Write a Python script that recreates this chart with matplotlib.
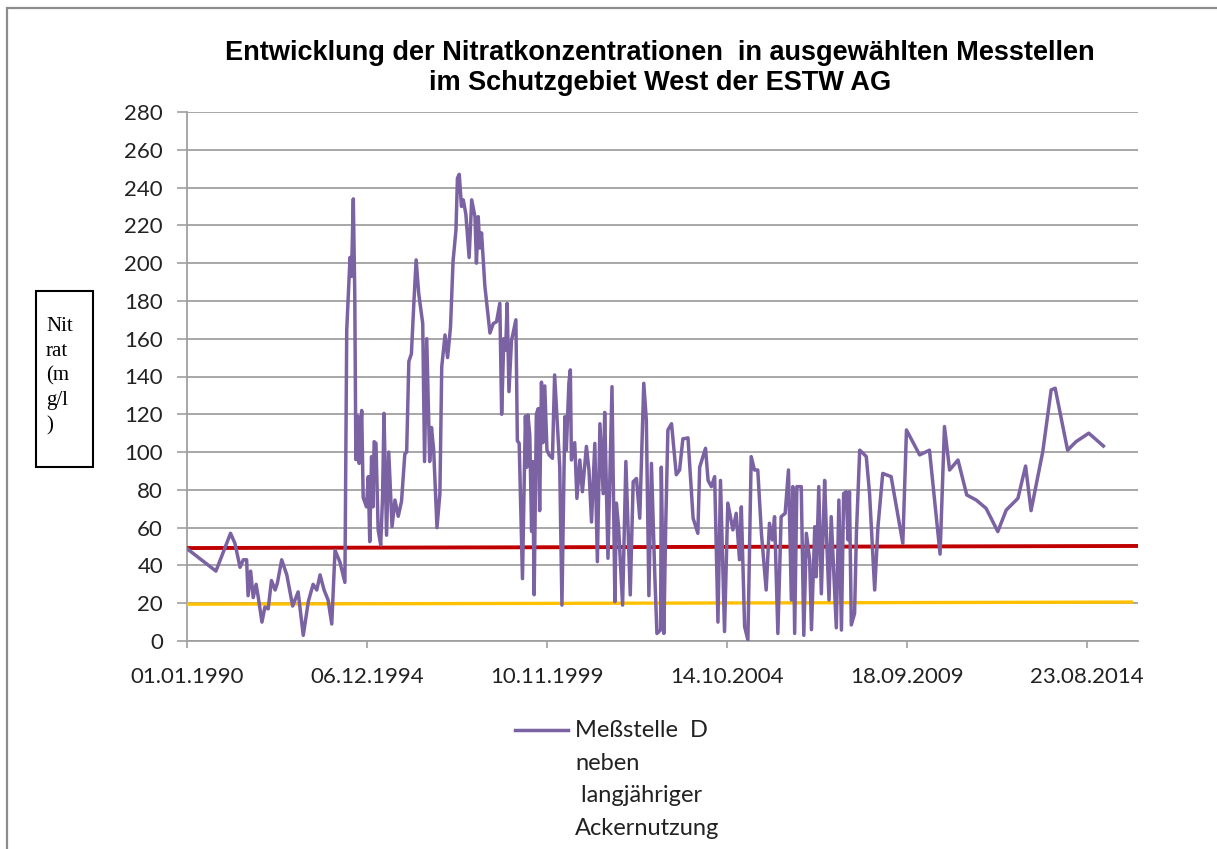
import numpy as np
import pandas as pd
import matplotlib
matplotlib.use('Agg')
import matplotlib.pyplot as plt
import matplotlib.dates as mdates
from matplotlib.patches import Rectangle
from matplotlib.lines import Line2D

# Messstelle D: decimal year and nitrate (mg/l)
years = [1990.00, 1990.80, 1991.20, 1991.32, 1991.46, 1991.55, 1991.64, 1991.68, 1991.75, 1991.82,
         1991.90, 1991.96, 1992.06, 1992.14, 1992.23, 1992.32, 1992.42, 1992.48, 1992.60, 1992.74,
         1992.90, 1993.05, 1993.19, 1993.33, 1993.46, 1993.56, 1993.65, 1993.76, 1993.87, 1993.97,
         1994.06, 1994.19, 1994.33, 1994.38, 1994.47, 1994.51, 1994.56, 1994.60, 1994.63, 1994.69,
         1994.72, 1994.79, 1994.83, 1994.92, 1994.97, 1995.01, 1995.06, 1995.10, 1995.13, 1995.18,
         1995.24, 1995.31, 1995.36, 1995.40, 1995.47, 1995.53, 1995.62, 1995.70, 1995.79, 1995.88,
         1995.97, 1996.02, 1996.08, 1996.15, 1996.22, 1996.28, 1996.35, 1996.46, 1996.51, 1996.57,
         1996.65, 1996.70, 1996.76, 1996.85, 1996.93, 1996.98, 1997.07, 1997.14, 1997.22, 1997.29,
         1997.37, 1997.41, 1997.46, 1997.52, 1997.57, 1997.64, 1997.73, 1997.80, 1997.89, 1997.93,
         1997.98, 1998.02, 1998.07, 1998.16, 1998.30, 1998.39, 1998.48, 1998.57, 1998.62, 1998.68,
         1998.73, 1998.77, 1998.82, 1998.89, 1999.01, 1999.05, 1999.10, 1999.19, 1999.27, 1999.31,
         1999.34, 1999.39, 1999.44, 1999.47, 1999.51, 1999.57, 1999.62, 1999.66, 1999.71, 1999.75,
         1999.80, 1999.86, 1999.92, 2000.01, 2000.07, 2000.16, 2000.21, 2000.27, 2000.35, 2000.39,
         2000.46, 2000.50, 2000.53, 2000.62, 2000.68, 2000.76, 2000.83, 2000.94, 2001.01, 2001.08,
         2001.17, 2001.24, 2001.31, 2001.40, 2001.44, 2001.53, 2001.64, 2001.72, 2001.76, 2001.82,
         2001.93, 2002.02, 2002.14, 2002.22, 2002.31, 2002.40, 2002.51, 2002.58, 2002.65, 2002.72,
         2002.81, 2002.87, 2002.97, 2002.99, 2003.06, 2003.11, 2003.17, 2003.27, 2003.40, 2003.49,
         2003.58, 2003.72, 2003.86, 2003.99, 2004.04, 2004.20, 2004.27, 2004.36, 2004.45, 2004.54,
         2004.61, 2004.72, 2004.81, 2004.95, 2005.04, 2005.13, 2005.18, 2005.27, 2005.36, 2005.45,
         2005.54, 2005.63, 2005.73, 2005.86, 2005.95, 2006.03, 2006.09, 2006.18, 2006.27, 2006.38,
         2006.47, 2006.55, 2006.59, 2006.64, 2006.70, 2006.82, 2006.89, 2006.96, 2007.05, 2007.10,
         2007.19, 2007.23, 2007.30, 2007.37, 2007.46, 2007.51, 2007.58, 2007.64, 2007.78, 2007.85,
         2007.92, 2007.98, 2008.05, 2008.10, 2008.14, 2008.19, 2008.28, 2008.33, 2008.42, 2008.51,
         2008.60, 2008.69, 2008.83, 2008.92, 2009.05, 2009.28, 2009.60, 2009.70, 2010.06, 2010.33,
         2010.62, 2010.74, 2010.88, 2011.11, 2011.35, 2011.61, 2011.88, 2012.20, 2012.43, 2012.75,
         2012.96, 2013.11, 2013.43, 2013.66, 2013.77, 2014.11, 2014.34, 2014.69, 2015.09]
nitrat = [49, 37, 57, 51.7, 39, 43, 43, 24, 37, 23,
          30, 23, 10, 18, 17, 32, 27, 30.5, 43, 35,
          18.5, 26, 3, 21, 30, 27, 35, 27, 21.7, 9,
          48, 42, 31, 164.6, 203, 193, 234, 184, 96, 119,
          94, 122, 76, 71, 87, 52.6, 97.6, 71, 105.5, 104.6,
          58.8, 50.8, 76, 120.5, 56, 100, 60.5, 74.6, 66, 74,
          99, 100, 148, 152, 180, 201.7, 184, 168, 95, 160,
          95, 113, 101, 60, 78, 145, 162, 150, 166, 201,
          217.6, 245, 247, 230, 233.5, 226, 203, 233.5, 224.6, 200,
          224.6, 208, 216, 188, 163, 168, 169, 178.7, 120, 160,
          154, 178.7, 132, 159, 170, 106, 104.6, 33, 119, 92,
          119.6, 109, 58, 95, 24.5, 120, 123, 69, 137, 105,
          135, 101, 98.5, 96.7, 140.8, 110, 92, 19, 118.7, 101,
          136.4, 143.5, 95.8, 105, 75.5, 95.8, 79, 103, 90.5, 63,
          104.6, 42, 115, 78, 121, 43.8, 134.6, 20.8, 73, 60.5,
          19, 95, 24.4, 84.3, 86, 65, 136.4, 117, 24, 94,
          35.8, 4, 5.8, 92, 4, 60.5, 111.7, 115, 88, 90.5,
          107, 107.5, 65, 57, 92, 102, 85, 81.7, 87, 10,
          85, 5, 73, 58.8, 67.6, 43, 71, 7.6, 0.5, 97.6,
          90.5, 90.5, 57, 27, 62.3, 53.5, 65.8, 4, 65.8, 67.6,
          90.5, 21.7, 81.7, 4, 81.7, 81.7, 3, 57, 43, 6,
          60.5, 34, 81.7, 25, 85, 57, 21.7, 65.8, 7, 74.6,
          5.8, 78, 79, 53.5, 79, 8.5, 14.6, 57, 101, 99.4,
          97.6, 78, 27, 60.5, 88.7, 87, 51.7, 111.7, 98.5, 101,
          46, 113.5, 90.5, 95.8, 77.3, 74.6, 70.2, 57.9, 69.3, 75.5,
          92.6, 69, 100.2, 132.9, 133.8, 101, 105.5, 110, 103.2]

# reference lines (start / end)
ref_red_dates = ['01.01.1990', '15.01.2016']
ref_red = [49.2, 50.3]
ref_yel_dates = ['01.01.1990', '09.11.2015']
ref_yel = [19.5, 20.6]

xtick_labels = ['01.01.1990', '06.12.1994', '10.11.1999', '14.10.2004', '18.09.2009', '23.08.2014']
yticks = list(range(0, 281, 20))

title = 'Entwicklung der Nitratkonzentrationen  in ausgewählten Messtellen\nim Schutzgebiet West der ESTW AG'
legend_label = 'Meßstelle  D\nneben\n langjähriger\nAckernutzung'

start = pd.Timestamp('1990-01-01')
dates = start + pd.to_timedelta((np.array(years) - 1990) * 365.25, unit='D')
xticks = pd.to_datetime(xtick_labels, format='%d.%m.%Y')

purple = '#7b62a3'
grid_c = '#a0a0a0'
tick_font = 'Lato'

fig = plt.figure(figsize=(12.17, 8.49), dpi=100)
ax = fig.add_axes([186.7 / 1217, 1 - 641 / 849, (1138 - 186.7) / 1217, (641 - 112) / 849])

ax.plot(pd.to_datetime(ref_yel_dates, format='%d.%m.%Y'), ref_yel, color='#ffc000', lw=2.4, zorder=3)
ax.plot(pd.to_datetime(ref_red_dates, format='%d.%m.%Y'), ref_red, color='#c00000', lw=2.8, zorder=3)
ax.plot(dates, nitrat, color=purple, lw=2.5, zorder=4)

ax.set_ylim(0, 280)
ax.set_yticks(yticks)
ax.set_xlim(start, pd.Timestamp('2016-01-15'))
ax.set_xticks(xticks)
ax.xaxis.set_major_formatter(mdates.DateFormatter('%d.%m.%Y'))

ax.grid(axis='y', color=grid_c, lw=1.3)
ax.set_axisbelow(True)
for s in ['top', 'right']:
    ax.spines[s].set_visible(False)
for s in ['left', 'bottom']:
    ax.spines[s].set_color(grid_c)
    ax.spines[s].set_linewidth(1.3)

ax.tick_params(axis='y', length=7, width=1.2, color=grid_c, pad=10, labelsize=16, labelcolor='#222222')
ax.tick_params(axis='x', length=5, width=1.2, color=grid_c, pad=14, labelsize=16, labelcolor='#222222')
for lab in ax.get_xticklabels() + ax.get_yticklabels():
    lab.set_fontfamily(tick_font)

fig.text(660 / 1217, 1 - 68 / 849, title, ha='center', va='center', fontsize=19.5,
         fontweight='bold', family='Liberation Sans', linespacing=1.25)

# y label in a box
fig.add_artist(Rectangle((35.5 / 1217, 1 - 466.5 / 849), 57 / 1217, 176 / 849,
                         transform=fig.transFigure, fill=False, ec='black', lw=1.5))
fig.text(46 / 1217, 1 - 317 / 849, 'Nit\nrat\n(m\ng/l\n)', ha='left', va='top',
         fontsize=15, family='Liberation Serif', linespacing=1.4)

# legend
fig.add_artist(Line2D([515 / 1217, 568 / 1217], [1 - 730 / 849, 1 - 730 / 849],
                      transform=fig.transFigure, color=purple, lw=2.5))
fig.text(575 / 1217, 1 - 720 / 849, legend_label, ha='left', va='top', fontsize=17,
         family=tick_font, linespacing=1.68, color='#222222')

# outer chart frame (cropped on right and bottom)
fig.add_artist(Rectangle((7 / 1217, -0.1), 1.2, 1 - 8 / 849 + 0.1,
                         transform=fig.transFigure, fill=False, ec='#8c8c8c', lw=1.6))

fig.savefig('out.png', dpi=100)
